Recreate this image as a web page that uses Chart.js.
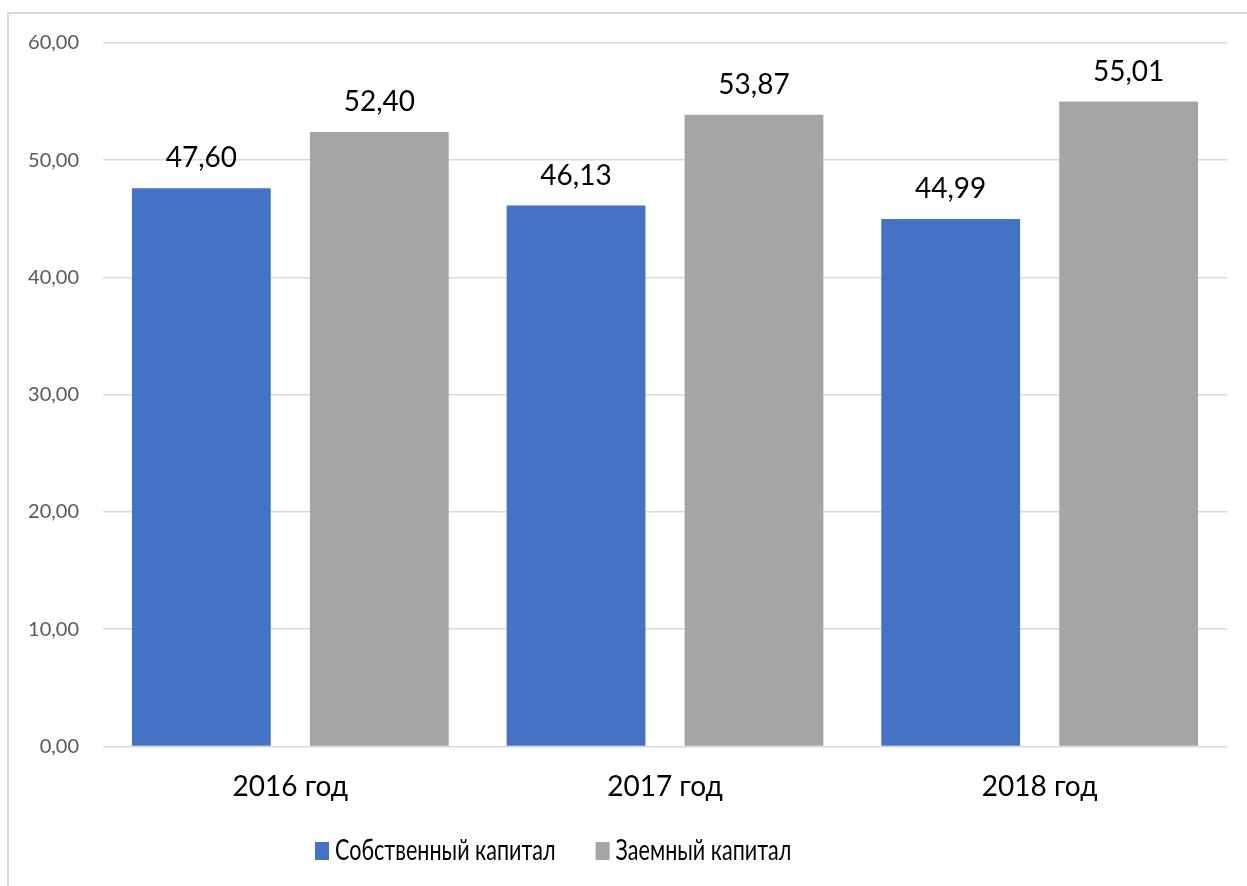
<!DOCTYPE html>
<html lang="ru">
<head>
<meta charset="utf-8">
<script src="https://cdn.jsdelivr.net/npm/chart.js@4.4.1/dist/chart.umd.min.js"></script>
<style>
  html, body { margin: 0; padding: 0; background: #fff; }
  #wrap { position: relative; width: 1247px; height: 886px; overflow: hidden; }
  #frame { position: absolute; left: 7px; top: 12px; width: 1300px; height: 900px; border: 2px solid #d9d9d9; box-sizing: border-box; }
  canvas { position: absolute; left: 0; top: 0; }
</style>
</head>
<body>
<div id="wrap">
  <div id="frame"></div>
  <canvas id="capitalChart" width="1247" height="886"></canvas>
</div>
<script>
const YEARS = ['2016 год', '2017 год', '2018 год'];
const OWN_CAPITAL = [47.60, 46.13, 44.99];
const BORROWED_CAPITAL = [52.40, 53.87, 55.01];
const SERIES_NAMES = ['Собственный капитал', 'Заемный капитал'];

const COLORS = ['#4472C4', '#A5A5A5'];
const FONT = 'Lato, "Open Sans", sans-serif';

const fmt = v => v.toFixed(2).replace('.', ',');

// draws the value above every bar
const valueLabels = {
    id: 'valueLabels',
    afterDatasetsDraw(chart) {
        const ctx = chart.ctx;
        ctx.save();
        ctx.font = '28px ' + FONT;
        ctx.fillStyle = '#000';
        ctx.textAlign = 'center';
        ctx.textBaseline = 'middle';
        chart.data.datasets.forEach((ds, i) => {
            chart.getDatasetMeta(i).data.forEach((bar, j) => {
                ctx.fillText(fmt(ds.data[j]), bar.x, bar.y - 30);
            });
        });
        ctx.restore();
    }
};

// legend with a condensed text, drawn under the axis labels
const narrowLegend = {
    id: 'narrowLegend',
    afterDraw(chart) {
        const ctx = chart.ctx;
        const squeeze = 0.77;
        let x = 315;
        const y = 851;
        ctx.save();
        ctx.font = '28px ' + FONT;
        ctx.textBaseline = 'middle';
        ctx.textAlign = 'left';
        chart.data.datasets.forEach(ds => {
            ctx.fillStyle = ds.backgroundColor;
            ctx.fillRect(x, y - 9, 14, 18);
            x += 20;
            ctx.fillStyle = '#000';
            ctx.save();
            ctx.translate(x, y);
            ctx.scale(squeeze, 1);
            ctx.fillText(ds.label, 0, 0);
            ctx.restore();
            x += ctx.measureText(ds.label).width * squeeze + 40;
        });
        ctx.restore();
    }
};

const ctx = document.getElementById('capitalChart').getContext('2d');
new Chart(ctx, {
    type: 'bar',
    data: {
        labels: YEARS,
        datasets: [
            { label: SERIES_NAMES[0], data: OWN_CAPITAL, backgroundColor: COLORS[0] },
            { label: SERIES_NAMES[1], data: BORROWED_CAPITAL, backgroundColor: COLORS[1] }
        ]
    },
    options: {
        responsive: false,
        animation: false,
        layout: { padding: { top: 43, right: 20, left: 0, bottom: 66 } },
        datasets: {
            bar: { categoryPercentage: 0.95, barPercentage: 0.78 }
        },
        scales: {
            x: {
                grid: { display: false },
                border: { display: false },
                ticks: { color: '#000', font: { family: FONT, size: 28 }, padding: 16 }
            },
            y: {
                min: 0,
                max: 60,
                afterFit(scale) { scale.width = 103; },
                grid: { color: '#d9d9d9', lineWidth: 1.5, drawTicks: false },
                border: { display: false },
                ticks: {
                    stepSize: 10,
                    color: '#595959',
                    padding: 24,
                    font: { family: FONT, size: 20 },
                    callback: v => fmt(v)
                }
            }
        },
        plugins: {
            tooltip: { enabled: false },
            legend: { display: false }
        }
    },
    plugins: [valueLabels, narrowLegend]
});
</script>
</body>
</html>
